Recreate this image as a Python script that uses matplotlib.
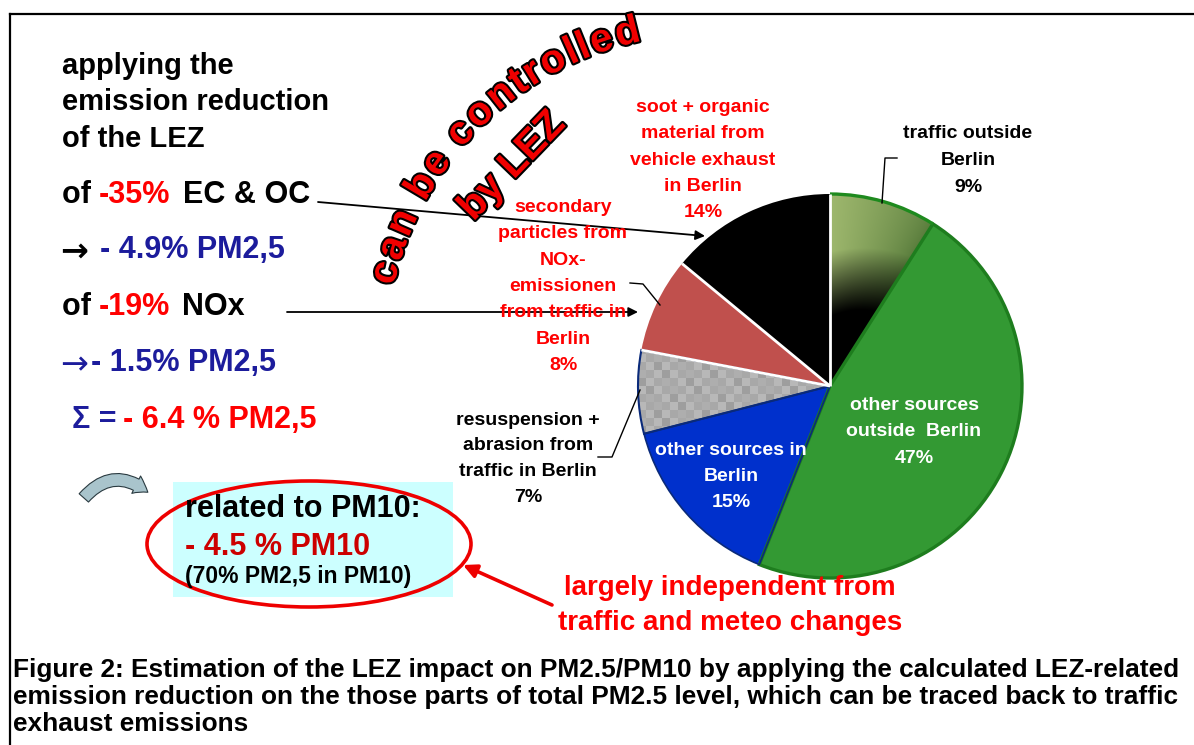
import numpy as np
import matplotlib
matplotlib.use("Agg")
import matplotlib.pyplot as plt
from matplotlib.patches import Wedge, Ellipse, Rectangle, FancyArrowPatch, Arc
import matplotlib.patheffects as pe

# ---------------- data ----------------
categories = [
    ["traffic outside", "Berlin"],
    ["other sources", "outside  Berlin"],
    ["other sources in", "Berlin"],
    ["resuspension +", "abrasion from", "traffic in Berlin"],
    ["secondary", "particles from", "NOx-", "emissionen", "from traffic in", "Berlin"],
    ["soot + organic", "material from", "vehicle exhaust", "in Berlin"],
]
shares = [9, 47, 15, 7, 8, 14]
slice_colors = ["#000000", "#339933", "#0030cc", "#a8a8a8", "#c0504d", "#000000"]
label_colors = ["black", "white", "white", "black", "#ff0000", "#ff0000"]

intro_lines = ["applying the", "emission reduction", "of the LEZ"]
caption_lines = [
    "Figure 2: Estimation of the LEZ impact on PM2.5/PM10 by applying the calculated LEZ-related",
    "emission reduction on the those parts of total PM2.5 level, which can be traced back to traffic",
    "exhaust emissions",
]
arc_text = "can be controlled"
arc_text2 = "by LEZ"

FAM = ["Liberation Sans", "DejaVu Sans"]
W, H = 1194, 745
fig = plt.figure(figsize=(W / 100, H / 100), dpi=100)
fig.patch.set_facecolor("white")

# ---------------- pie (own axes, pixel units) ----------------
PCX, PCY, R = 830, 386, 192
HALF = 200
pax = fig.add_axes([(PCX - HALF) / W, (H - PCY - HALF) / H, 2 * HALF / W, 2 * HALF / H])
wedges, _ = pax.pie(shares, colors=slice_colors, startangle=90, counterclock=False,
                    radius=R, center=(0, 0), wedgeprops=dict(linewidth=0))
pax.axis("off")

# gradient fill for "traffic outside Berlin"
gx = np.linspace(-R, R, 400)
X, Y = np.meshgrid(gx, gx)
rr = np.hypot(X, Y) / R
ang = np.degrees(np.arctan2(Y, X))
g = np.clip((ang - 57.6) / 32.4, 0, 1)
t = np.clip((rr - 0.36 - 0.10 * (1 - g)) / 0.34, 0, 1)
light = np.array([0.62, 0.72, 0.43])
dark = np.array([0.34, 0.48, 0.23])
col = dark + (light - dark) * g[..., None] ** 0.7
img = np.clip(col * t[..., None], 0, 1)
im = pax.imshow(img, extent=(-R, R, -R, R), origin="lower", zorder=2, interpolation="bilinear")
im.set_clip_path(wedges[0])

# checker texture for "resuspension"
n = 48
ii, jj = np.indices((n, n))
chk = 0.66 + 0.06 * ((ii + jj) % 2) - 0.04 * (((ii // 2) + jj) % 3 == 0)
im2 = pax.imshow(chk, extent=(-R, R, -R, R), origin="lower", cmap="gray", vmin=0, vmax=1,
                 zorder=2, interpolation="nearest")
im2.set_clip_path(wedges[3])
pax.set_xlim(-HALF, HALF)
pax.set_ylim(-HALF, HALF)
pax.set_aspect("equal")

# borders
pax.add_patch(Wedge((0, 0), R, -111.6, 57.6, fill=False, ec="#1e7d1e", lw=2.4, zorder=4))
pax.add_patch(Arc((0, 0), 2 * R, 2 * R, theta1=57.6, theta2=90, color="#1e8a1e", lw=2.4, zorder=4))
pax.add_patch(Wedge((0, 0), R, -165.6, -111.6, fill=False, ec="#0a2a7a", lw=1.2, zorder=4))
pax.add_patch(Wedge((0, 0), R, 169.2, 194.4, fill=False, ec="#0a2a7a", lw=1.5, zorder=4))
for a in [90, 140.4, 169.2]:
    pax.plot([0, R * np.cos(np.radians(a))], [0, R * np.sin(np.radians(a))],
             color="white", lw=2, zorder=5, solid_capstyle="butt")

# ---------------- overlay axes in pixel coordinates ----------------
ax = fig.add_axes([0, 0, 1, 1])
ax.set_xlim(0, W)
ax.set_ylim(H, 0)
ax.axis("off")
ax.patch.set_visible(False)

# frame
ax.plot([10, 10], [14, H], color="black", lw=1.6)
ax.plot([10, W], [14, 14], color="black", lw=1.6)

def T(x, y, s, size, color="black", weight="bold", ha="left", family=FAM, **kw):
    return ax.text(x, y, s, fontsize=size, color=color, weight=weight, ha=ha,
                   va="baseline", family=family, **kw)

# left column
for i, s in enumerate(intro_lines):
    T(62, 74 + i * 36.5, s, 21)

BLUE = "#1c1c9c"
RED = "#ff0000"
ARROWFAM = ["DejaVu Sans"]
T(62, 203, "of ", 22)
T(99, 203, "-35%", 22, RED)
T(183, 203, "EC & OC", 22)
T(60, 261, "\u2192", 24, family=ARROWFAM)
T(100, 258, "- 4.9% PM2,5", 22, BLUE)
T(62, 315, "of ", 22)
T(99, 315, "-19%", 22, RED)
T(182, 315, "NOx", 22)
T(60, 374, "\u2192", 24, BLUE, weight="normal", family=ARROWFAM)
T(91, 371, "- 1.5% PM2,5", 22, BLUE)
T(72, 428, "\u03a3 =", 22, BLUE)
T(123, 428, "- 6.4 % PM2,5", 22, RED)

# arrows from left text to pie
ax.annotate("", xy=(705, 236), xytext=(318, 202),
            arrowprops=dict(arrowstyle="-|>", color="black", lw=1.3, mutation_scale=14,
                            shrinkA=0, shrinkB=0))
ax.annotate("", xy=(638, 312), xytext=(287, 312),
            arrowprops=dict(arrowstyle="-|>", color="black", lw=1.3, mutation_scale=14,
                            shrinkA=0, shrinkB=0))

# curved "can be controlled" text
adv = {"c": .556, "a": .556, "n": .611, " ": .278, "b": .611, "e": .556, "o": .611,
       "t": .333, "r": .389, "l": .278, "d": .611}
pos, centers = 0.0, []
for ch in arc_text:
    centers.append(pos + adv[ch] / 2)
    pos += adv[ch]
centers = np.array(centers)
th = 165.5 + (centers - centers[0]) / (centers[-1] - centers[0]) * (104 - 165.5)
ACX, ACY, RB = 708, 356, 322
stroke = [pe.withStroke(linewidth=3, foreground="black")]
for ch, a in zip(arc_text, th):
    if ch == " ":
        continue
    x = ACX + RB * np.cos(np.radians(a))
    y = ACY - RB * np.sin(np.radians(a))
    ax.text(x, y, ch, fontsize=29, weight="bold", color="#f00000", family=FAM,
            rotation=a - 90, rotation_mode="anchor", ha="center", va="baseline",
            path_effects=stroke)
ax.text(512, 166, arc_text2, fontsize=29, weight="bold", color="#f00000", family=FAM,
        rotation=46, rotation_mode="anchor", ha="center", va="center", path_effects=stroke)

# pie labels
def block(x, y0, lines, color, dy=26.5, size=14):
    for i, s in enumerate(lines):
        T(x, y0 + i * dy, s, size, color, ha="center")

label_pos = [(968, 138, 27), (914, 410, 26.5), (731, 455, 26), (528, 425, 25.5),
             (563, 212, 26.3), (703, 112, 26.3)]
for k in range(6):
    x, y0, dy = label_pos[k]
    block(x, y0, categories[k] + [f"{shares[k]}%"], label_colors[k], dy=dy)

# leader lines
ax.plot([897, 885, 882], [158, 158, 203], color="black", lw=1)
ax.plot([630, 643, 660], [283, 284, 305], color="black", lw=1)
ax.plot([598, 612, 640], [457, 457, 390], color="black", lw=1)

# PM10 box
ax.add_patch(Rectangle((173, 482), 280, 115, facecolor="#ccffff", edgecolor="none", zorder=0))
T(185, 517, "related to PM10:", 22)
T(185, 555, "- 4.5 % PM10", 22, "#cc0000")
T(185, 583, "(70% PM2,5 in PM10)", 16.5)
ax.add_patch(Ellipse((309, 544), 324, 126, fill=False, ec="#ee0000", lw=2.6))

# curved icon arrow
ax.add_patch(FancyArrowPatch((82, 500), (150, 494), connectionstyle="arc3,rad=-0.5",
                             arrowstyle="simple,head_length=10,head_width=14,tail_width=9",
                             fc="#a9c4cc", ec="#2a3a40", lw=0.8, mutation_scale=1))

# red arrow and text
ax.annotate("", xy=(463, 565), xytext=(552, 605),
            arrowprops=dict(arrowstyle="-|>", color="#ee0000", lw=2.6, mutation_scale=20,
                            shrinkA=0, shrinkB=0))
T(730, 595, "largely independent from", 20, RED, ha="center")
T(730, 630, "traffic and meteo changes", 20, RED, ha="center")

# caption
for i, s in enumerate(caption_lines):
    T(13, 677 + i * 27, s, 18.9)

fig.savefig("out.png", dpi=100)
